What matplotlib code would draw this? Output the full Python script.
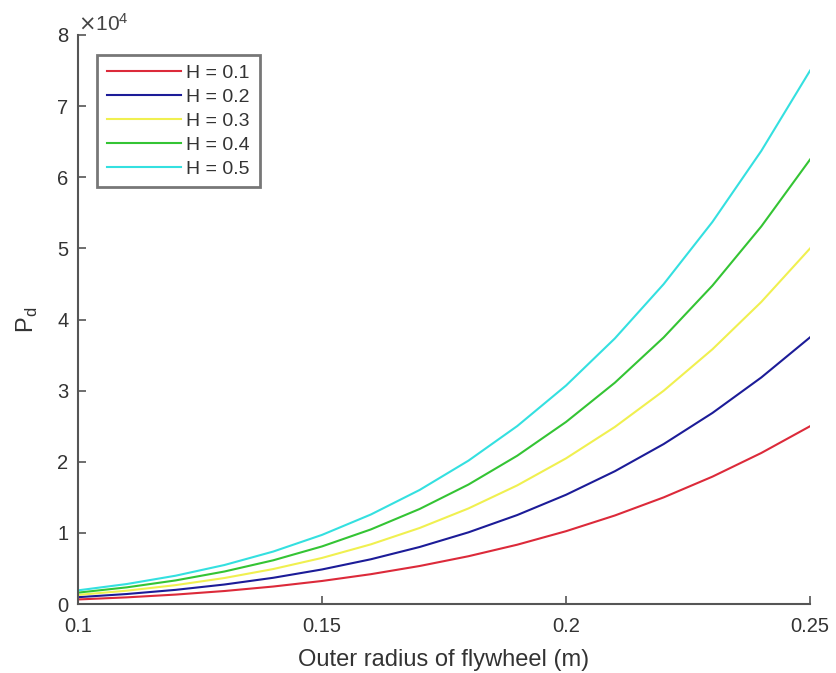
import matplotlib
matplotlib.use("Agg")
import matplotlib.pyplot as plt

radius = [0.10, 0.11, 0.12, 0.13, 0.14, 0.15, 0.16, 0.17, 0.18, 0.19,
          0.20, 0.21, 0.22, 0.23, 0.24, 0.25]
p_h01 = [640, 937, 1327, 1828, 2459, 3240, 4194, 5345, 6718, 8340,
         10240, 12447, 14992, 17910, 21234, 25000]
p_h02 = [960, 1406, 1991, 2742, 3688, 4860, 6291, 8018, 10077, 12510,
         15360, 18670, 22490, 26865, 31850, 37500]
p_h03 = [1280, 1874, 2654, 3656, 4917, 6480, 8388, 10690, 13437, 16681,
         20480, 24894, 29985, 35820, 42467, 50000]
p_h04 = [1600, 2343, 3318, 4570, 6146, 8100, 10486, 13363, 16796, 20851,
         25600, 31117, 37481, 44775, 53084, 62500]
p_h05 = [1920, 2811, 3981, 5484, 7376, 9720, 12583, 16036, 20155, 25021,
         30720, 37340, 44977, 53730, 63701, 75000]
series = [p_h01, p_h02, p_h03, p_h04, p_h05]
labels = ["H = 0.1", "H = 0.2", "H = 0.3", "H = 0.4", "H = 0.5"]
colors = ["#dc2a3a", "#1c1c98", "#f0f050", "#34c434", "#34e0e0"]
xticks = [0.1, 0.15, 0.2, 0.25]
xtick_labels = ["0.1", "0.15", "0.2", "0.25"]
yticks = [0, 1, 2, 3, 4, 5, 6, 7, 8]

plt.rcParams['font.family'] = ['Liberation Sans', 'DejaVu Sans']

fig = plt.figure(figsize=(8.36, 6.73), dpi=100)
ax = fig.add_axes([0.0933, 0.1025, 0.8757, 0.8455])

for ys, lab, c in zip(series, labels, colors):
    ax.plot(radius, [v / 1e4 for v in ys], color=c, lw=1.5, label=lab)

ax.set_xlim(0.1, 0.25)
ax.set_ylim(0, 8)
ax.set_xticks(xticks)
ax.set_xticklabels(xtick_labels)
ax.set_yticks(yticks)
for s in ["top", "right"]:
    ax.spines[s].set_visible(False)
for s in ["left", "bottom"]:
    ax.spines[s].set_color("#555555")
    ax.spines[s].set_linewidth(1.5)
ax.tick_params(direction="in", length=6, width=1.2, color="#555555",
               labelsize=14.5, labelcolor="#333333")
ax.tick_params(axis="x", pad=9)
ax.tick_params(axis="y", pad=7)

ax.text(0.0, 1.0, r"$\times\mathregular{10^4}$", transform=ax.transAxes,
        fontsize=15, color="#444444", ha="left", va="bottom")
ax.set_xlabel("Outer radius of flywheel (m)", fontsize=17, color="#333333", labelpad=10)
ax.set_ylabel(r"P$_\mathregular{d}$", fontsize=17, color="#333333", labelpad=12)

leg = ax.legend(loc="upper left", bbox_to_anchor=(0.026, 0.965), fontsize=14,
                frameon=True, fancybox=False, edgecolor="#555555",
                handlelength=3.8, handletextpad=0.3, labelspacing=0.32,
                borderpad=0.5, borderaxespad=0)
leg.get_frame().set_linewidth(2)
for t in leg.get_texts():
    t.set_color("#333333")

fig.savefig("out.png", dpi=100)
